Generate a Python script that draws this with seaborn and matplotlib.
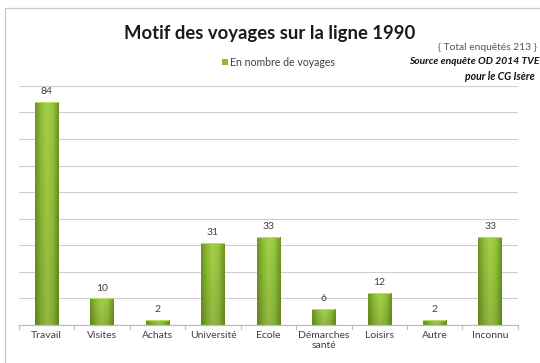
import numpy as np
import pandas as pd
import matplotlib
matplotlib.use("Agg")
import matplotlib.pyplot as plt
import seaborn as sns
from matplotlib.colors import LinearSegmentedColormap
from matplotlib.patches import Rectangle

categories = ["Travail", "Visites", "Achats", "Université", "Ecole",
              "Démarches\nsanté", "Loisirs", "Autre", "Inconnu"]
voyages = [84, 10, 2, 31, 33, 6, 12, 2, 33]
y_ticks = [0, 10, 20, 30, 40, 50, 60, 70, 80, 90]

df = pd.DataFrame({"motif": categories, "voyages": voyages})

sns.set_theme(style="white")
plt.rcParams["font.family"] = ["Lato", "DejaVu Sans"]

fig = plt.figure(figsize=(5.4, 3.63), dpi=100)
ax = fig.add_axes([0.035, 0.1047, 0.924, 0.659])

sns.barplot(data=df, x="motif", y="voyages", color="#8DBB34",
            width=0.42, ax=ax, saturation=1)

ax.set_ylim(0, 90)
ax.set_xlim(-0.5, len(categories) - 0.5)
ax.set_yticks(y_ticks)
ax.set_yticklabels([])
ax.tick_params(axis="y", length=0)
ax.grid(axis="y", color="#cfcfcf", linewidth=0.8)
ax.set_axisbelow(True)
for side in ["top", "right", "left"]:
    ax.spines[side].set_visible(False)
ax.spines["bottom"].set_color("#bdbdbd")
ax.spines["bottom"].set_linewidth(0.9)
ax.set_xlabel("")
ax.set_ylabel("")

# category ticks sit between bars
ax.set_xticks(np.arange(len(categories)))
ax.set_xticklabels(categories, fontsize=7.5, color="#404040")
ax.tick_params(axis="x", length=0, pad=4)
for b in np.arange(-0.5, len(categories), 1.0):
    ax.plot([b, b], [0, -1.4], color="#bdbdbd", lw=0.8, clip_on=False)

# cylinder-like shading on each bar
cmap = LinearSegmentedColormap.from_list(
    "bar", ["#6E9424", "#8FBE35", "#A6D24A", "#96C53C", "#6C9322"])
xs = np.linspace(0, 1, 64)
for patch, v in zip(ax.patches, voyages):
    x0, w = patch.get_x(), patch.get_width()
    h = patch.get_height()
    patch.set_facecolor("none")
    patch.set_edgecolor("none")
    rows = np.linspace(0, 1, 32)[:, None]
    grad = np.tile(xs, (32, 1))
    rgb = cmap(grad)[..., :3]
    shade = 0.88 + 0.12 * rows
    rgb = rgb * shade[..., None]
    im = ax.imshow(rgb, extent=[x0, x0 + w, 0, h], origin="lower",
                   aspect="auto", zorder=2, interpolation="bilinear")
    clip = Rectangle((x0, 0), w, h, transform=ax.transData)
    im.set_clip_path(clip)
    # light top cap
    ax.add_patch(Rectangle((x0, h - 0.35), w, 0.35, facecolor="#B8DC66",
                           edgecolor="none", zorder=3))
    ax.text(x0 + w / 2, h + 2.2, f"{v}", ha="center", va="bottom",
            fontsize=7.5, color="#404040")

# chart frame
fig.patches.append(Rectangle((5 / 540, -0.05), 1.1, 1 - 8 / 363 + 0.05,
                             transform=fig.transFigure, fill=False,
                             edgecolor="#c8c8c8", linewidth=0.9))

fig.text(0.5, 1 - 33 / 363, "Motif des voyages sur la ligne 1990",
         ha="center", va="center", fontsize=13.3, fontweight="bold",
         color="#1a1a1a")
fig.text(537 / 540, 1 - 48 / 363, "{ Total enquêtés 213 }", ha="right",
         va="center", fontsize=7.4, color="#555555")
fig.text(539 / 540, 1 - 62 / 363, "Source enquête OD 2014 TVE", ha="right",
         va="center", fontsize=7.4, fontweight="bold", fontstyle="italic",
         color="#111111")
fig.text(535 / 540, 1 - 77 / 363, "pour le CG Isère", ha="right",
         va="center", fontsize=7.6, fontweight="bold", fontstyle="italic",
         color="#111111")

# legend entry
fig.patches.append(Rectangle((222 / 540, 1 - 65 / 363), 6 / 540, 6 / 363,
                             transform=fig.transFigure, facecolor="#8DBB34",
                             edgecolor="none"))
fig.text(230 / 540, 1 - 62 / 363, "En nombre de voyages", ha="left",
         va="center", fontsize=7.6, color="#404040")

fig.savefig("out.png", dpi=100, facecolor="white")
